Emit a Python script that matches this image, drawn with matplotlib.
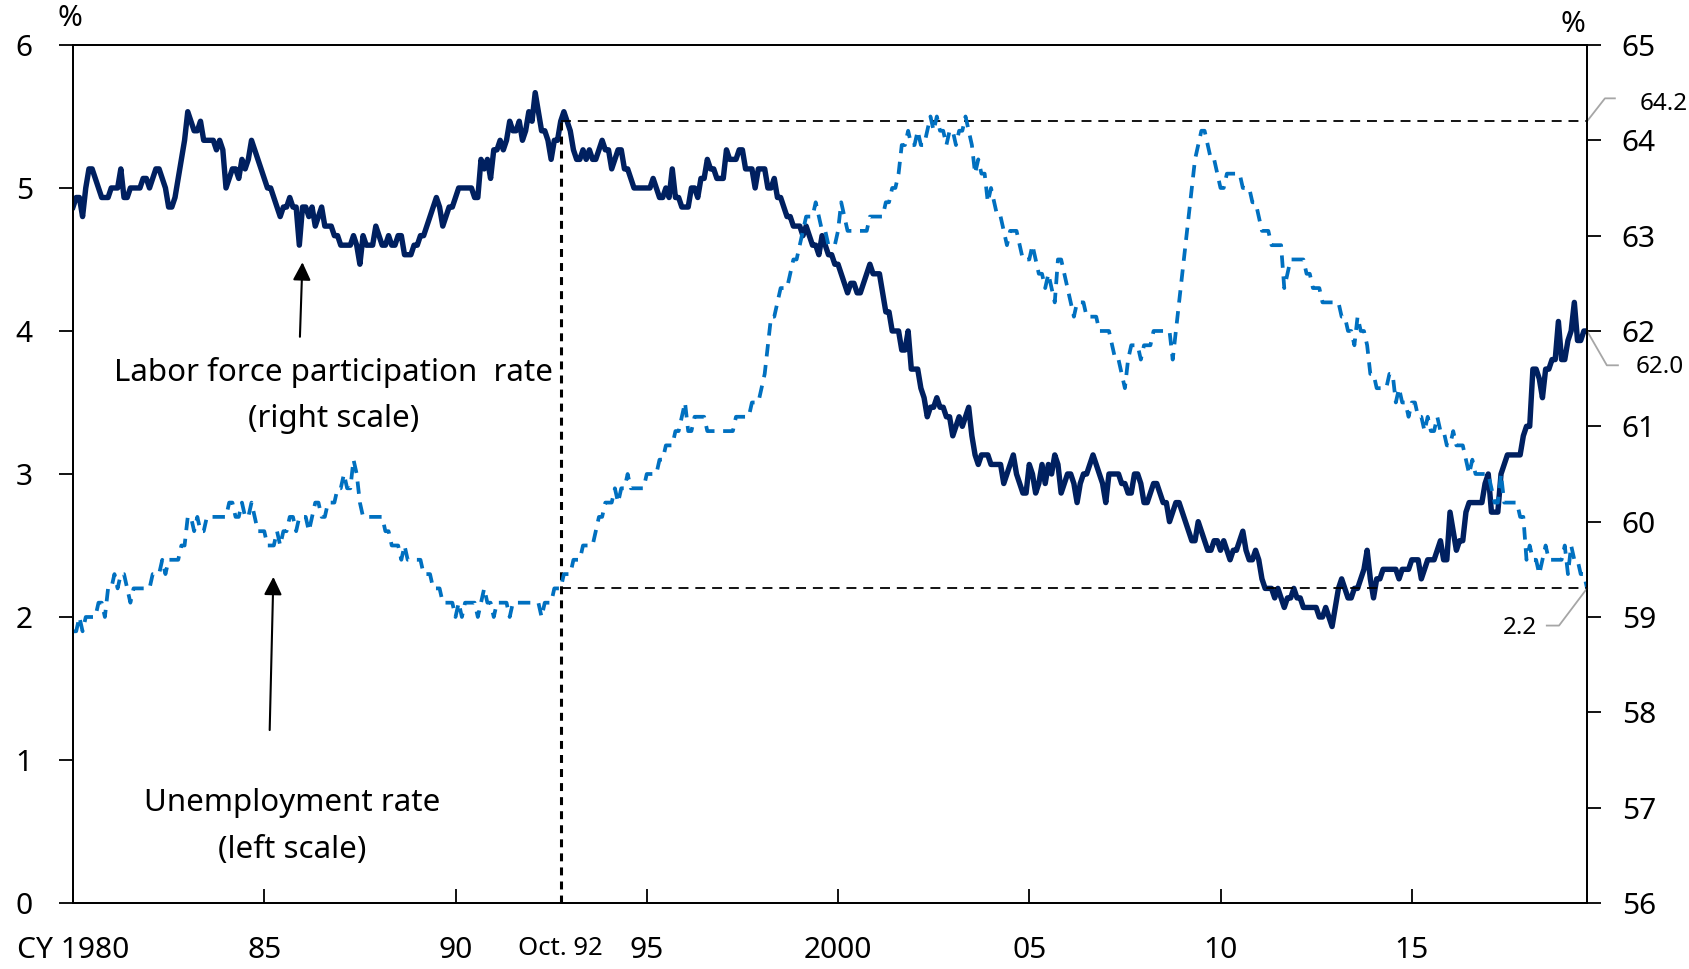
import numpy as np
import matplotlib.pyplot as plt

plt.rcParams['font.family'] = ['Noto Sans', 'DejaVu Sans']

# monthly data, Jan 1980 - Aug 2019, one row per year
start_year = 1980

unemployment = [
    1.9, 1.9, 2.0, 1.9, 2.0, 2.0, 2.0, 2.0, 2.1, 2.1, 2.0, 2.2,  # 1980
    2.2, 2.3, 2.2, 2.3, 2.3, 2.2, 2.1, 2.2, 2.2, 2.2, 2.2, 2.2,  # 1981
    2.2, 2.3, 2.3, 2.3, 2.4, 2.3, 2.4, 2.4, 2.4, 2.4, 2.5, 2.5,  # 1982
    2.7, 2.7, 2.6, 2.7, 2.6, 2.6, 2.7, 2.7, 2.7, 2.7, 2.7, 2.7,  # 1983
    2.7, 2.8, 2.8, 2.7, 2.7, 2.8, 2.7, 2.7, 2.8, 2.7, 2.6, 2.6,  # 1984
    2.6, 2.5, 2.5, 2.5, 2.6, 2.5, 2.6, 2.6, 2.7, 2.7, 2.6, 2.7,  # 1985
    2.7, 2.7, 2.6, 2.7, 2.8, 2.8, 2.7, 2.7, 2.8, 2.8, 2.8, 2.9,  # 1986
    2.9, 3.0, 2.9, 2.9, 3.1, 3.0, 2.8, 2.7, 2.7, 2.7, 2.7, 2.7,  # 1987
    2.7, 2.7, 2.6, 2.6, 2.5, 2.5, 2.5, 2.4, 2.5, 2.4, 2.4, 2.4,  # 1988
    2.4, 2.4, 2.3, 2.3, 2.3, 2.2, 2.2, 2.2, 2.1, 2.1, 2.1, 2.1,  # 1989
    2.0, 2.1, 2.0, 2.1, 2.1, 2.1, 2.1, 2.0, 2.1, 2.2, 2.1, 2.1,  # 1990
    2.0, 2.1, 2.1, 2.1, 2.1, 2.0, 2.1, 2.1, 2.1, 2.1, 2.1, 2.1,  # 1991
    2.1, 2.1, 2.1, 2.0, 2.1, 2.1, 2.1, 2.2, 2.2, 2.2, 2.3, 2.3,  # 1992
    2.3, 2.4, 2.4, 2.4, 2.5, 2.5, 2.5, 2.5, 2.6, 2.7, 2.7, 2.8,  # 1993
    2.8, 2.8, 2.9, 2.8, 2.9, 2.9, 3.0, 2.9, 2.9, 2.9, 2.9, 2.9,  # 1994
    3.0, 3.0, 3.0, 3.0, 3.1, 3.1, 3.2, 3.2, 3.2, 3.3, 3.3, 3.4,  # 1995
    3.5, 3.3, 3.3, 3.4, 3.4, 3.4, 3.4, 3.3, 3.3, 3.3, 3.3, 3.3,  # 1996
    3.3, 3.3, 3.3, 3.3, 3.4, 3.4, 3.4, 3.4, 3.4, 3.5, 3.5, 3.5,  # 1997
    3.6, 3.7, 3.9, 4.1, 4.1, 4.2, 4.3, 4.3, 4.3, 4.4, 4.5, 4.5,  # 1998
    4.6, 4.7, 4.8, 4.8, 4.8, 4.9, 4.8, 4.7, 4.7, 4.6, 4.6, 4.6,  # 1999
    4.7, 4.9, 4.8, 4.7, 4.7, 4.7, 4.7, 4.7, 4.7, 4.7, 4.8, 4.8,  # 2000
    4.8, 4.8, 4.8, 4.9, 4.9, 5.0, 5.0, 5.1, 5.3, 5.3, 5.4, 5.3,  # 2001
    5.3, 5.4, 5.3, 5.3, 5.4, 5.5, 5.4, 5.5, 5.4, 5.4, 5.3, 5.4,  # 2002
    5.4, 5.3, 5.4, 5.4, 5.5, 5.4, 5.3, 5.1, 5.2, 5.1, 5.1, 4.9,  # 2003
    5.0, 4.9, 4.8, 4.8, 4.7, 4.6, 4.7, 4.7, 4.7, 4.6, 4.5, 4.5,  # 2004
    4.5, 4.6, 4.5, 4.4, 4.4, 4.3, 4.4, 4.3, 4.2, 4.5, 4.5, 4.4,  # 2005
    4.3, 4.2, 4.1, 4.2, 4.2, 4.2, 4.1, 4.1, 4.1, 4.1, 4.0, 4.0,  # 2006
    4.0, 4.0, 3.9, 3.8, 3.8, 3.7, 3.6, 3.8, 3.9, 3.9, 3.9, 3.8,  # 2007
    3.9, 3.9, 3.9, 4.0, 4.0, 4.0, 4.0, 4.0, 4.0, 3.8, 4.0, 4.2,  # 2008
    4.4, 4.6, 4.8, 5.0, 5.2, 5.3, 5.4, 5.4, 5.3, 5.2, 5.2, 5.1,  # 2009
    5.0, 5.0, 5.1, 5.1, 5.1, 5.1, 5.1, 5.0, 5.0, 5.0, 4.9, 4.9,  # 2010
    4.8, 4.7, 4.7, 4.7, 4.6, 4.6, 4.6, 4.6, 4.3, 4.4, 4.5, 4.5,  # 2011
    4.5, 4.5, 4.5, 4.4, 4.4, 4.3, 4.3, 4.3, 4.2, 4.2, 4.2, 4.2,  # 2012
    4.2, 4.2, 4.1, 4.1, 4.0, 4.0, 3.9, 4.1, 4.0, 4.0, 3.9, 3.7,  # 2013
    3.7, 3.6, 3.6, 3.6, 3.6, 3.7, 3.7, 3.5, 3.6, 3.5, 3.5, 3.4,  # 2014
    3.5, 3.5, 3.4, 3.4, 3.3, 3.4, 3.3, 3.3, 3.4, 3.3, 3.3, 3.2,  # 2015
    3.2, 3.3, 3.2, 3.2, 3.2, 3.1, 3.0, 3.1, 3.0, 3.0, 3.0, 3.0,  # 2016
    3.0, 2.9, 2.8, 2.8, 3.0, 2.8, 2.8, 2.8, 2.8, 2.8, 2.7, 2.7,  # 2017
    2.4, 2.5, 2.4, 2.4, 2.3, 2.4, 2.5, 2.4, 2.4, 2.4, 2.4, 2.4,  # 2018
    2.5, 2.3, 2.5, 2.4, 2.4, 2.3, 2.3, 2.2,                      # 2019
]

participation = [
    63.3, 63.4, 63.4, 63.2, 63.5, 63.7, 63.7, 63.6, 63.5, 63.4, 63.4, 63.4,  # 1980
    63.5, 63.5, 63.5, 63.7, 63.4, 63.4, 63.5, 63.5, 63.5, 63.5, 63.6, 63.6,  # 1981
    63.5, 63.6, 63.7, 63.7, 63.6, 63.5, 63.3, 63.3, 63.4, 63.6, 63.8, 64.0,  # 1982
    64.3, 64.2, 64.1, 64.1, 64.2, 64.0, 64.0, 64.0, 64.0, 63.9, 64.0, 63.9,  # 1983
    63.5, 63.6, 63.7, 63.7, 63.6, 63.8, 63.7, 63.8, 64.0, 63.9, 63.8, 63.7,  # 1984
    63.6, 63.5, 63.5, 63.4, 63.3, 63.2, 63.3, 63.3, 63.4, 63.3, 63.3, 62.9,  # 1985
    63.3, 63.3, 63.2, 63.3, 63.1, 63.2, 63.3, 63.1, 63.1, 63.1, 63.0, 63.0,  # 1986
    62.9, 62.9, 62.9, 62.9, 63.0, 62.9, 62.7, 63.0, 62.9, 62.9, 62.9, 63.1,  # 1987
    63.0, 62.9, 62.9, 63.0, 62.9, 62.9, 63.0, 63.0, 62.8, 62.8, 62.8, 62.9,  # 1988
    62.9, 63.0, 63.0, 63.1, 63.2, 63.3, 63.4, 63.3, 63.1, 63.2, 63.3, 63.3,  # 1989
    63.4, 63.5, 63.5, 63.5, 63.5, 63.5, 63.4, 63.4, 63.8, 63.7, 63.8, 63.6,  # 1990
    63.9, 63.9, 64.0, 63.9, 64.0, 64.2, 64.1, 64.1, 64.2, 64.0, 64.1, 64.3,  # 1991
    64.2, 64.5, 64.3, 64.1, 64.1, 64.0, 63.8, 64.0, 64.0, 64.2, 64.3, 64.2,  # 1992
    64.1, 63.9, 63.8, 63.8, 63.9, 63.8, 63.9, 63.8, 63.8, 63.9, 64.0, 63.9,  # 1993
    63.9, 63.7, 63.8, 63.9, 63.9, 63.7, 63.7, 63.6, 63.5, 63.5, 63.5, 63.5,  # 1994
    63.5, 63.5, 63.6, 63.5, 63.4, 63.4, 63.5, 63.4, 63.7, 63.4, 63.4, 63.3,  # 1995
    63.3, 63.3, 63.5, 63.5, 63.4, 63.6, 63.6, 63.8, 63.7, 63.7, 63.6, 63.6,  # 1996
    63.6, 63.9, 63.8, 63.8, 63.8, 63.9, 63.9, 63.7, 63.7, 63.7, 63.5, 63.7,  # 1997
    63.7, 63.7, 63.5, 63.5, 63.6, 63.4, 63.4, 63.3, 63.2, 63.2, 63.1, 63.1,  # 1998
    63.1, 63.0, 63.1, 63.0, 62.9, 62.9, 62.8, 63.0, 62.9, 62.8, 62.8, 62.7,  # 1999
    62.7, 62.6, 62.5, 62.4, 62.5, 62.5, 62.4, 62.4, 62.5, 62.6, 62.7, 62.6,  # 2000
    62.6, 62.6, 62.4, 62.2, 62.2, 62.0, 62.0, 62.0, 61.8, 61.8, 62.0, 61.6,  # 2001
    61.6, 61.6, 61.4, 61.3, 61.1, 61.2, 61.2, 61.3, 61.2, 61.2, 61.1, 61.1,  # 2002
    60.9, 61.0, 61.1, 61.0, 61.1, 61.2, 60.9, 60.7, 60.6, 60.7, 60.7, 60.7,  # 2003
    60.6, 60.6, 60.6, 60.6, 60.4, 60.5, 60.6, 60.7, 60.5, 60.4, 60.3, 60.3,  # 2004
    60.6, 60.5, 60.3, 60.4, 60.6, 60.4, 60.6, 60.5, 60.7, 60.6, 60.3, 60.4,  # 2005
    60.5, 60.5, 60.4, 60.2, 60.4, 60.5, 60.5, 60.6, 60.7, 60.6, 60.5, 60.4,  # 2006
    60.2, 60.5, 60.5, 60.5, 60.5, 60.4, 60.4, 60.3, 60.3, 60.5, 60.5, 60.4,  # 2007
    60.2, 60.2, 60.3, 60.4, 60.4, 60.3, 60.2, 60.2, 60.0, 60.1, 60.2, 60.2,  # 2008
    60.1, 60.0, 59.9, 59.8, 59.8, 60.0, 59.9, 59.8, 59.7, 59.7, 59.8, 59.8,  # 2009
    59.7, 59.8, 59.7, 59.6, 59.7, 59.7, 59.8, 59.9, 59.7, 59.6, 59.6, 59.7,  # 2010
    59.6, 59.4, 59.3, 59.3, 59.3, 59.2, 59.3, 59.2, 59.1, 59.2, 59.2, 59.3,  # 2011
    59.2, 59.2, 59.1, 59.1, 59.1, 59.1, 59.1, 59.0, 59.0, 59.1, 59.0, 58.9,  # 2012
    59.1, 59.3, 59.4, 59.3, 59.2, 59.2, 59.3, 59.3, 59.4, 59.5, 59.7, 59.4,  # 2013
    59.2, 59.4, 59.4, 59.5, 59.5, 59.5, 59.5, 59.5, 59.4, 59.5, 59.5, 59.5,  # 2014
    59.6, 59.6, 59.6, 59.4, 59.5, 59.6, 59.6, 59.6, 59.7, 59.8, 59.6, 59.6,  # 2015
    60.1, 59.9, 59.7, 59.8, 59.8, 60.1, 60.2, 60.2, 60.2, 60.2, 60.2, 60.4,  # 2016
    60.5, 60.1, 60.1, 60.1, 60.5, 60.6, 60.7, 60.7, 60.7, 60.7, 60.7, 60.9,  # 2017
    61.0, 61.0, 61.6, 61.6, 61.5, 61.3, 61.6, 61.6, 61.7, 61.7, 62.1, 61.7,  # 2018
    61.7, 61.9, 62.0, 62.3, 61.9, 61.9, 62.0, 62.0,                          # 2019
]

xticks = [1980, 1985, 1990, 1995, 2000, 2005, 2010, 2015]
xticklabels = ['CY 1980', '85', '90', '95', '2000', '05', '10', '15']

ref_month = 1992.75   # Oct. 92
ref_lfpr = 64.2
ref_unemp = 2.2
last_lfpr = 62.0

navy = '#002060'
blue = '#0070C0'
grey = '#a6a6a6'

months = start_year + np.arange(len(unemployment)) / 12
x_end = months[-1]

fig = plt.figure(figsize=(16.9, 9.69), dpi=100)
ax = fig.add_axes([0.0432, 0.0681, 0.8959, 0.8855])
ax2 = ax.twinx()
# unemployment drawn over participation
ax.set_zorder(ax2.get_zorder() + 1)
ax.patch.set_visible(False)

ax2.plot(months, participation, color=navy, lw=3.9)
ax.plot(months, unemployment, color=blue, lw=2.7, dashes=(3.3, 2.3))

ax.set_xlim(start_year, x_end)
ax.set_ylim(0, 6)
ax2.set_ylim(56, 65)
ax.set_yticks(range(0, 7))
ax2.set_yticks(range(56, 66))
ax.set_xticks(xticks)
ax.set_xticklabels(xticklabels)

for a in (ax, ax2):
    for s in a.spines.values():
        s.set_linewidth(1.3)
ax.tick_params(axis='x', direction='in', length=10, width=1.3, pad=24, labelsize=21.5)
ax.tick_params(axis='y', direction='out', length=10, width=1.3, pad=19, labelsize=21.5)
ax2.tick_params(axis='y', direction='out', length=10, width=1.3, pad=15, labelsize=21.5)

fig.text(70 / 1690, 1 - 18 / 969, '%', fontsize=21.5, ha='center', va='center')
fig.text(1573 / 1690, 1 - 25 / 969, '%', fontsize=21.5, ha='center', va='center')

# reference lines at Oct. 92
ax2.plot([ref_month, ref_month], [56, ref_lfpr], color='black', lw=2.2,
         dashes=(2.6, 2.0), clip_on=False)
ax2.plot([ref_month, x_end], [ref_lfpr, ref_lfpr], color='black', lw=1.3, dashes=(5.5, 3.8))
ax.plot([ref_month, x_end], [ref_unemp, ref_unemp], color='black', lw=1.3, dashes=(5.5, 3.8))
ax.text(ref_month, -0.053, 'Oct. 92', transform=ax.get_xaxis_transform(),
        fontsize=18.5, ha='center', va='center')

# value callouts on the right
ax2.plot([x_end, 2020.05, 2020.31], [ref_lfpr, 64.44, 64.44], color=grey, lw=1.3, clip_on=False)
ax2.text(2020.95, 64.38, f'{ref_lfpr:.1f}', fontsize=17.5, ha='left', va='center')
ax2.plot([x_end, 2020.1, 2020.39], [last_lfpr, 61.64, 61.64], color=grey, lw=1.3, clip_on=False)
ax2.text(2020.85, 61.62, f'{last_lfpr:.1f}', fontsize=17.5, ha='left', va='center')
ax.plot([x_end, 2018.85, 2018.53], [ref_unemp, 1.94, 1.94], color=grey, lw=1.3, clip_on=False)
ax.text(2018.27, 1.92, f'{ref_unemp:.1f}', fontsize=17.5, ha='right', va='center')

# series labels with arrows
ax.text(1986.81, 3.71, 'Labor force participation  rate', fontsize=22.5, ha='center', va='center')
ax.text(1986.81, 3.385, '(right scale)', fontsize=22.5, ha='center', va='center')
ax.annotate('', xy=(1986.0, 4.50), xytext=(1985.93, 3.94),
            arrowprops=dict(arrowstyle='-|>', color='black', lw=1.5, mutation_scale=27))
ax.text(1985.73, 0.70, 'Unemployment rate', fontsize=22.5, ha='center', va='center')
ax.text(1985.73, 0.37, '(left scale)', fontsize=22.5, ha='center', va='center')
ax.annotate('', xy=(1985.24, 2.30), xytext=(1985.14, 1.19),
            arrowprops=dict(arrowstyle='-|>', color='black', lw=1.5, mutation_scale=27))

fig.savefig('out.png', dpi=100)
